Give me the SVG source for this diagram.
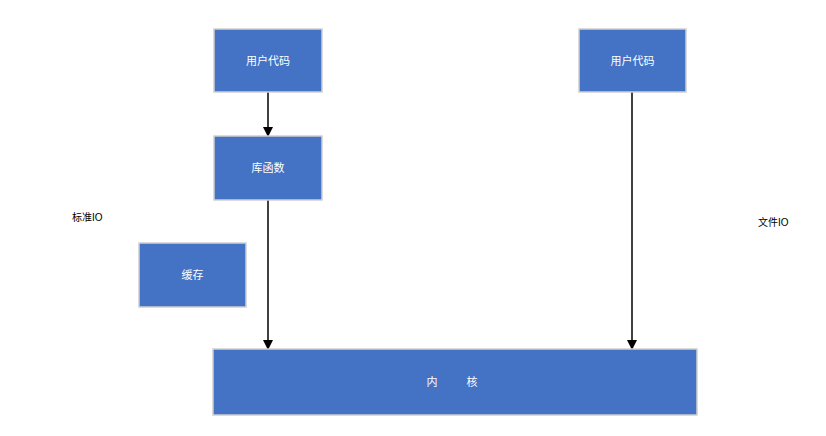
<svg xmlns="http://www.w3.org/2000/svg" width="826" height="436" viewBox="0 0 826 436">
<style>
.box{fill:#4472C4;stroke:#d0d0d0;stroke-width:1.5}
.t{font-family:"Liberation Sans","Noto Sans CJK SC",sans-serif;font-size:11px;fill:#ffffff;text-anchor:middle;dominant-baseline:central}
.lbl{font-family:"Liberation Sans","Noto Sans CJK SC",sans-serif;font-size:10px;fill:#000000;dominant-baseline:central}
.c{stroke:#000;stroke-width:1.5;fill:none;marker-end:url(#ah)}
</style>
<defs>
<marker id="ah" markerWidth="10" markerHeight="10" refX="9" refY="5" orient="auto" markerUnits="userSpaceOnUse">
<path d="M0,0 L10,5 L0,10 Z" fill="#000"/>
</marker>
</defs>
<rect width="826" height="436" fill="#ffffff"/>
<g id="connectors">
<line class="c" x1="268" y1="92" x2="268" y2="136"/>
<line class="c" x1="268" y1="200" x2="268" y2="349"/>
<line class="c" x1="632" y1="92" x2="632" y2="349"/>
</g>
<g id="user-code-left">
<rect class="box" x="214" y="29" width="108" height="63"/>
<text class="t" x="268" y="60.5">用户代码</text>
</g>
<g id="lib-func">
<rect class="box" x="214" y="136" width="108" height="64"/>
<text class="t" x="268" y="168">库函数</text>
</g>
<g id="cache">
<rect class="box" x="139" y="243" width="107" height="64"/>
<text class="t" x="192.5" y="275">缓存</text>
</g>
<g id="user-code-right">
<rect class="box" x="579" y="29" width="107" height="63"/>
<text class="t" x="632.5" y="60.5">用户代码</text>
</g>
<g id="kernel">
<rect class="box" x="213" y="349" width="484" height="66"/>
<text class="t" x="432" y="382">内</text>
<text class="t" x="472" y="382">核</text>
</g>
<g id="std-io">
<text class="lbl" x="72" y="217">标准IO</text>
</g>
<g id="file-io">
<text class="lbl" x="758" y="222">文件IO</text>
</g>
</svg>
